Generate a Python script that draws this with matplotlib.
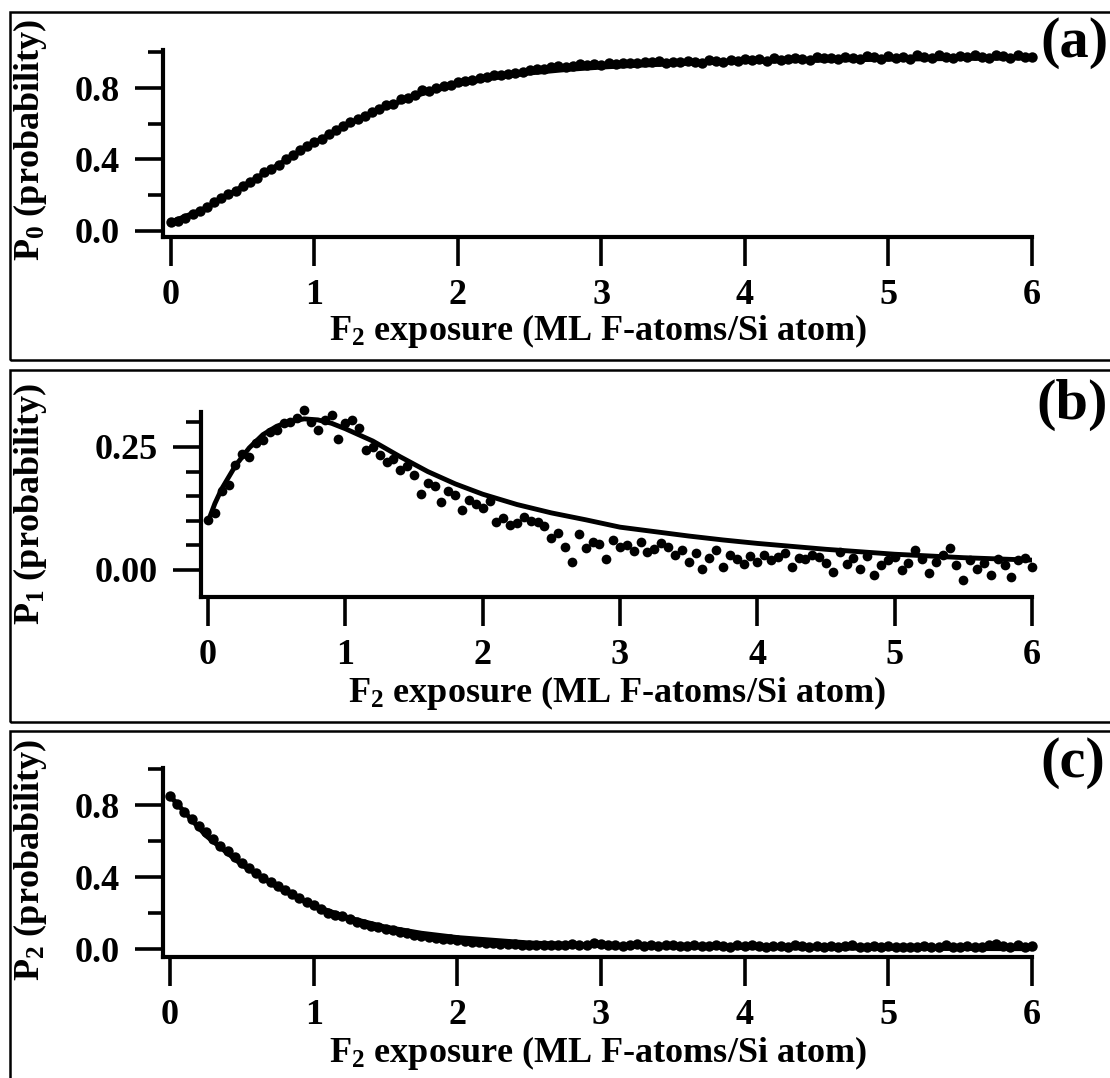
import matplotlib
matplotlib.use('Agg')
from matplotlib import pyplot as plt
from matplotlib.patches import Rectangle

plt.rcParams['font.family'] = ['Liberation Serif', 'DejaVu Serif']
plt.rcParams['font.weight'] = 'bold'
plt.rcParams['mathtext.fontset'] = 'custom'
plt.rcParams['mathtext.rm'] = 'Liberation Serif:bold'
plt.rcParams['mathtext.it'] = 'Liberation Serif:italic:bold'
plt.rcParams['mathtext.bf'] = 'Liberation Serif:bold'
plt.rcParams['mathtext.default'] = 'rm'

# exposure grid (ML F-atoms / Si atom)
exposure = [0.00, 0.05, 0.10, 0.15, 0.20, 0.25, 0.30, 0.35, 0.40, 0.45,
            0.50, 0.55, 0.60, 0.65, 0.70, 0.75, 0.80, 0.85, 0.90, 0.95,
            1.00, 1.05, 1.10, 1.15, 1.20, 1.25, 1.30, 1.35, 1.40, 1.45,
            1.50, 1.55, 1.60, 1.65, 1.70, 1.75, 1.80, 1.85, 1.90, 1.95,
            2.00, 2.05, 2.10, 2.15, 2.20, 2.25, 2.30, 2.35, 2.40, 2.45,
            2.50, 2.55, 2.60, 2.65, 2.70, 2.75, 2.80, 2.85, 2.90, 2.95,
            3.00, 3.05, 3.10, 3.15, 3.20, 3.25, 3.30, 3.35, 3.40, 3.45,
            3.50, 3.55, 3.60, 3.65, 3.70, 3.75, 3.80, 3.85, 3.90, 3.95,
            4.00, 4.05, 4.10, 4.15, 4.20, 4.25, 4.30, 4.35, 4.40, 4.45,
            4.50, 4.55, 4.60, 4.65, 4.70, 4.75, 4.80, 4.85, 4.90, 4.95,
            5.00, 5.05, 5.10, 5.15, 5.20, 5.25, 5.30, 5.35, 5.40, 5.45,
            5.50, 5.55, 5.60, 5.65, 5.70, 5.75, 5.80, 5.85, 5.90, 5.95,
            6.00]

p0_data = [0.052, 0.058, 0.070, 0.095, 0.112, 0.135, 0.160, 0.182, 0.205, 0.226,
           0.252, 0.272, 0.297, 0.328, 0.348, 0.372, 0.405, 0.424, 0.452, 0.478,
           0.500, 0.514, 0.545, 0.566, 0.585, 0.608, 0.628, 0.642, 0.667, 0.680,
           0.703, 0.712, 0.738, 0.742, 0.760, 0.790, 0.785, 0.800, 0.812, 0.818,
           0.832, 0.840, 0.845, 0.855, 0.862, 0.872, 0.870, 0.880, 0.886, 0.890,
           0.900, 0.908, 0.905, 0.918, 0.922, 0.915, 0.925, 0.932, 0.928, 0.935,
           0.930, 0.938, 0.935, 0.942, 0.940, 0.938, 0.946, 0.944, 0.950, 0.941,
           0.947, 0.943, 0.952, 0.948, 0.940, 0.955, 0.950, 0.946, 0.958, 0.953,
           0.960, 0.955, 0.962, 0.952, 0.966, 0.958, 0.962, 0.970, 0.962, 0.958,
           0.975, 0.966, 0.968, 0.960, 0.975, 0.970, 0.965, 0.978, 0.972, 0.962,
           0.980, 0.970, 0.976, 0.964, 0.982, 0.975, 0.970, 0.985, 0.976, 0.968,
           0.980, 0.972, 0.984, 0.975, 0.966, 0.982, 0.977, 0.970, 0.983, 0.975,
           0.972]

p1_data = [0.101, 0.115, 0.160, 0.172, 0.213, 0.235, 0.230, 0.258, 0.265, 0.281,
           0.285, 0.298, 0.300, 0.308, 0.325, 0.300, 0.284, 0.305, 0.315, 0.267,
           0.298, 0.305, 0.288, 0.244, 0.250, 0.233, 0.220, 0.225, 0.203, 0.212,
           0.193, 0.155, 0.176, 0.170, 0.139, 0.160, 0.152, 0.122, 0.142, 0.135,
           0.125, 0.140, 0.098, 0.105, 0.091, 0.095, 0.108, 0.100, 0.098, 0.090,
           0.064, 0.075, 0.047, 0.017, 0.074, 0.044, 0.057, 0.052, 0.023, 0.060,
           0.047, 0.050, 0.038, 0.057, 0.037, 0.042, 0.055, 0.047, 0.030, 0.040,
           0.017, 0.035, 0.003, 0.025, 0.040, 0.006, 0.030, 0.022, 0.013, 0.028,
           0.017, 0.030, 0.020, 0.027, 0.035, 0.006, 0.025, 0.023, 0.030, 0.027,
           0.015, -0.004, 0.037, 0.013, 0.025, 0.003, 0.028, -0.010, 0.010, 0.020,
           0.027, 0.000, 0.015, 0.040, 0.022, -0.007, 0.017, 0.030, 0.045, 0.010,
           -0.021, 0.020, 0.003, 0.015, -0.010, 0.023, 0.010, -0.014, 0.020, 0.025,
           0.006]

p2_data = [0.850, 0.805, 0.762, 0.722, 0.683, 0.648, 0.612, 0.575, 0.542, 0.510,
           0.478, 0.450, 0.422, 0.396, 0.372, 0.348, 0.327, 0.306, 0.285, 0.264,
           0.243, 0.222, 0.200, 0.192, 0.183, 0.165, 0.151, 0.141, 0.128, 0.121,
           0.110, 0.106, 0.095, 0.089, 0.080, 0.073, 0.068, 0.063, 0.058, 0.055,
           0.050, 0.046, 0.042, 0.039, 0.036, 0.032, 0.030, 0.028, 0.026, 0.025,
           0.024, 0.022, 0.025, 0.020, 0.023, 0.021, 0.030, 0.024, 0.020, 0.031,
           0.026, 0.020, 0.024, 0.018, 0.022, 0.027, 0.019, 0.023, 0.017, 0.021,
           0.025, 0.018, 0.015, 0.022, 0.019, 0.016, 0.024, 0.018, 0.014, 0.020,
           0.017, 0.022, 0.015, 0.012, 0.019, 0.016, 0.013, 0.021, 0.015, 0.012,
           0.018, 0.014, 0.016, 0.011, 0.017, 0.020, 0.013, 0.010, 0.015, 0.012,
           0.016, 0.011, 0.014, 0.010, 0.013, 0.017, 0.012, 0.009, 0.022, 0.013,
           0.011, 0.016, 0.010, 0.014, 0.020, 0.026, 0.015, 0.011, 0.024, 0.012,
           0.018]

# fitted curves
p0_fit_x = [0.0, 0.25, 0.5, 0.75, 1.0, 1.25, 1.5, 1.75, 2.0, 2.25, 2.5, 2.75,
            3.0, 3.25, 3.5, 3.75, 4.0, 4.5, 5.0, 5.5, 6.0]
p0_fit_y = [0.050, 0.130, 0.250, 0.372, 0.495, 0.603, 0.695, 0.768, 0.820, 0.857,
            0.884, 0.903, 0.917, 0.927, 0.935, 0.942, 0.947, 0.955, 0.961, 0.965, 0.968]

p1_fit_x = [0.0, 0.05, 0.1, 0.2, 0.3, 0.4, 0.5, 0.6, 0.7, 0.8, 0.9, 1.0, 1.2, 1.4,
            1.6, 1.8, 2.0, 2.25, 2.5, 2.75, 3.0, 3.25, 3.5, 3.75, 4.0, 4.5, 5.0, 5.5, 6.0]
p1_fit_y = [0.098, 0.135, 0.165, 0.212, 0.248, 0.275, 0.292, 0.302, 0.307, 0.305,
            0.298, 0.287, 0.262, 0.230, 0.200, 0.175, 0.154, 0.133, 0.116, 0.102,
            0.087, 0.078, 0.069, 0.061, 0.054, 0.042, 0.032, 0.025, 0.020]

p2_fit_x = [0.0, 0.25, 0.5, 0.75, 1.0, 1.25, 1.5, 1.75, 2.0, 2.5, 3.0, 3.5, 4.0, 5.0, 6.0]
p2_fit_y = [0.850, 0.630, 0.468, 0.342, 0.240, 0.172, 0.122, 0.088, 0.064, 0.034,
            0.020, 0.013, 0.008, 0.004, 0.002]

x_ticks = [0, 1, 2, 3, 4, 5, 6]
x_tick_labels = ['0', '1', '2', '3', '4', '5', '6']
xlabel = 'F$_2$ exposure (ML F-atoms/Si atom)'

W, H = 1110, 1078
FS = 26
fig = plt.figure(figsize=(W / 100, H / 100), dpi=100)


def px_axes(left, top, right, bottom):
    return fig.add_axes([left / W, 1 - bottom / H, (right - left) / W, (bottom - top) / H])


def frame(top, bottom):
    fig.add_artist(Rectangle((10 / W, 1 - bottom / H), 1.2, (bottom - top) / H,
                             transform=fig.transFigure, fill=False, lw=1.8,
                             edgecolor='black', clip_on=False))


def setup(ax, xlim, ylim, major, major_labels, minor, label_y):
    ax.set_xlim(*xlim)
    ax.set_ylim(*ylim)
    for s in ['top', 'right']:
        ax.spines[s].set_visible(False)
    for s in ['left', 'bottom']:
        ax.spines[s].set_linewidth(3)
    ax.set_xticks(x_ticks)
    ax.set_xticklabels(x_tick_labels)
    ax.set_yticks(major)
    ax.set_yticklabels(major_labels)
    ax.set_yticks(minor, minor=True)
    ax.tick_params(axis='x', which='major', length=21, width=2.6, pad=9, labelsize=FS)
    ax.tick_params(axis='y', which='major', length=20, width=2.6, pad=11, labelsize=FS)
    ax.tick_params(axis='y', which='minor', length=11, width=2.6)
    ax.set_xlabel(xlabel, fontsize=FS, fontweight='bold', va='center')
    ax.xaxis.set_label_coords(0.5, label_y)


# panel (a)
frame(12, 360)
ax1 = px_axes(163, 50, 1032, 237)
ax1.plot(p0_fit_x, p0_fit_y, color='black', lw=3.5)
ax1.plot(exposure, p0_data, 'o', color='black', ms=7.5, mec='none', clip_on=False)
setup(ax1, (-0.0557, 6.0), (-0.0336, 1.0126), [0.0, 0.4, 0.8], ['0.0', '0.4', '0.8'],
      [0.2, 0.6, 1.0], -0.50)
fig.text(30 / W, 1 - 140 / H, 'P$_0$ (probability)', rotation=90, ha='center', va='center',
         fontsize=FS, fontweight='bold')
fig.text(1040 / W, 1 - 43 / H, '(a)', ha='left', va='center', fontsize=42, fontweight='bold')

# panel (b)
frame(370, 722)
ax2 = px_axes(201, 412, 1032, 597)
ax2.plot(p1_fit_x, p1_fit_y, color='black', lw=3.5)
ax2.plot(exposure, p1_data, 'o', color='black', ms=7, mec='none', clip_on=False)
setup(ax2, (-0.051, 6.0), (-0.0549, 0.321), [0.0, 0.25], ['0.00', '0.25'],
      [0.05, 0.10, 0.15, 0.20, 0.30], -0.52)
fig.text(30 / W, 1 - 504 / H, 'P$_1$ (probability)', rotation=90, ha='center', va='center',
         fontsize=FS, fontweight='bold')
fig.text(1036 / W, 1 - 405 / H, '(b)', ha='left', va='center', fontsize=42, fontweight='bold')

# panel (c)
frame(731, 1100)
ax3 = px_axes(163, 768, 1032, 957)
ax3.plot(p2_fit_x, p2_fit_y, color='black', lw=3.5)
ax3.plot(exposure, p2_data, 'o', color='black', ms=7.5, mec='none', clip_on=False)
setup(ax3, (-0.049, 6.0), (-0.044, 1.0056), [0.0, 0.4, 0.8], ['0.0', '0.4', '0.8'],
      [0.2, 0.6, 1.0], -0.51)
fig.text(30 / W, 1 - 860 / H, 'P$_2$ (probability)', rotation=90, ha='center', va='center',
         fontsize=FS, fontweight='bold')
fig.text(1040 / W, 1 - 763 / H, '(c)', ha='left', va='center', fontsize=42, fontweight='bold')

fig.savefig('out.png', dpi=100)
